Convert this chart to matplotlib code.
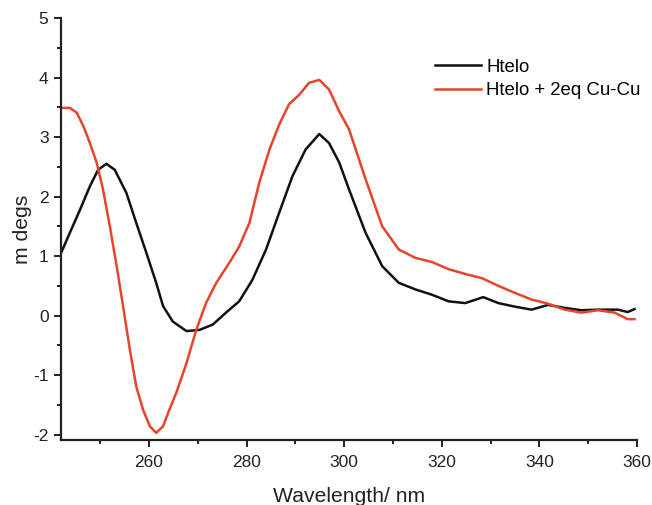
import matplotlib
matplotlib.use("Agg")
import matplotlib.pyplot as plt
from matplotlib.ticker import MultipleLocator

plt.rcParams['font.family'] = ['Liberation Sans', 'DejaVu Sans']
plt.rcParams['axes.unicode_minus'] = False

htelo_x = [242, 243.8, 245.9, 247.9, 249.6, 251.3, 253, 255.4, 257.4, 259.5, 261.5, 262.9,
           264.9, 267.7, 270.4, 273.1, 275.8, 278.5, 281.2, 284, 286.7, 289.4, 292.1, 294.9,
           296.9, 299, 301, 304.4, 307.8, 311.2, 314.6, 318, 321.4, 324.8, 328.5, 331.6,
           335, 338.4, 341.8, 345.2, 348.6, 352, 356.1, 358.1, 359.5]
htelo_y = [1.05, 1.39, 1.78, 2.17, 2.45, 2.55, 2.45, 2.06, 1.56, 1.05, 0.55, 0.16,
           -0.1, -0.26, -0.24, -0.15, 0.05, 0.24, 0.6, 1.11, 1.73, 2.34, 2.79, 3.05,
           2.9, 2.57, 2.12, 1.39, 0.83, 0.55, 0.44, 0.35, 0.24, 0.21, 0.31, 0.21,
           0.15, 0.1, 0.18, 0.13, 0.09, 0.1, 0.1, 0.06, 0.11]

cu_x = [242, 243.8, 245.2, 246.6, 247.9, 249.3, 250.6, 252, 253.4, 254.7, 256.1, 257.4,
        258.8, 260.2, 261.5, 262.9, 264.2, 265.6, 267.7, 269.7, 271.7, 273.8, 276.5,
        278.5, 280.6, 282.6, 284.7, 286.7, 288.7, 290.8, 292.8, 294.9, 296.9, 299,
        301, 304.4, 307.8, 311.2, 314.6, 318, 321.4, 324.8, 328.2, 331.6, 335, 338.4,
        341.8, 345.2, 348.6, 352, 355.4, 358.1, 359.5]
cu_y = [3.49, 3.49, 3.41, 3.18, 2.9, 2.57, 2.12, 1.5, 0.83, 0.16, -0.57, -1.19,
        -1.58, -1.86, -1.97, -1.86, -1.58, -1.3, -0.8, -0.24, 0.21, 0.55, 0.89,
        1.16, 1.56, 2.23, 2.79, 3.21, 3.55, 3.71, 3.91, 3.96, 3.8, 3.43,
        3.13, 2.29, 1.5, 1.11, 0.97, 0.9, 0.78, 0.7, 0.63, 0.5, 0.38, 0.27,
        0.2, 0.1, 0.05, 0.09, 0.05, -0.06, -0.06]

labels = ['Htelo', 'Htelo + 2eq Cu-Cu']
colors = ['#111111', '#e8432b']

fig = plt.figure(figsize=(6.52, 5.05), dpi=100)
ax = fig.add_axes([0.0936, 0.1287, 0.8834, 0.8357])
ax.plot(htelo_x, htelo_y, color=colors[0], lw=1.8, label=labels[0])
ax.plot(cu_x, cu_y, color=colors[1], lw=1.8, label=labels[1])

ax.set_xlim(242, 360)
ax.set_ylim(-2.09, 5)
ax.xaxis.set_major_locator(MultipleLocator(20))
ax.xaxis.set_minor_locator(MultipleLocator(10))
ax.yaxis.set_major_locator(MultipleLocator(1))
ax.yaxis.set_minor_locator(MultipleLocator(0.5))
for s in ['top', 'right']:
    ax.spines[s].set_visible(False)
for s in ['left', 'bottom']:
    ax.spines[s].set_linewidth(1.6)
    ax.spines[s].set_color('#222222')
ax.tick_params(which='major', direction='out', length=5, width=1.4, labelsize=12.5, colors='#222222')
ax.tick_params(axis='x', which='major', pad=6)
ax.tick_params(axis='y', which='major', pad=4)
ax.tick_params(which='minor', direction='out', length=3, width=1.4, colors='#222222')
ax.set_xlabel('Wavelength/ nm', fontsize=15.2, color='#222222', labelpad=12)
ax.set_ylabel('m degs', fontsize=15.2, color='#222222', labelpad=1)

leg = fig.legend(loc='upper left', bbox_to_anchor=(0.667, 0.884), frameon=False, fontsize=13.4,
                 handlelength=2.5, handletextpad=0.27, labelspacing=0.36,
                 borderpad=0, borderaxespad=0)

fig.savefig('out.png', dpi=100)
